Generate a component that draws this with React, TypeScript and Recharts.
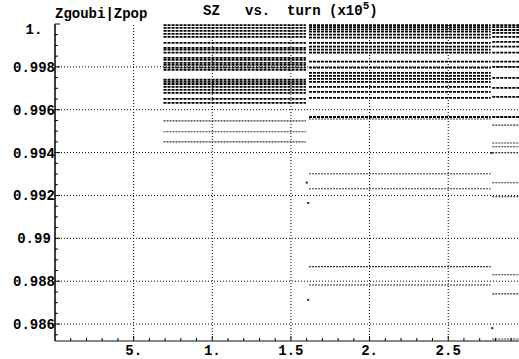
import React from "react";
import { ComposedChart, Line, Scatter, XAxis, YAxis, ReferenceLine } from "recharts";

// x ranges (turn, x10^5) of the three plateaus
const segmentStarts = [0.69, 1.615, 2.78];
const segmentEnds = [1.595, 2.77, 2.95];

// SZ levels read in each plateau
const levelsA = [
  0.99995, 0.99982, 0.99968, 0.99954, 0.9994, 0.99912, 0.99889, 0.9988, 0.99866,
  0.99842, 0.99833, 0.99819, 0.99809, 0.99796, 0.99786, 0.9974, 0.9973, 0.9972,
  0.99707, 0.99693, 0.99679, 0.99651, 0.99632, 0.99548, 0.99497, 0.9945,
];
const levelsB = [
  0.99995, 0.99985, 0.99975, 0.99964, 0.9995, 0.99936, 0.99912, 0.99894, 0.9988, 0.99866,
  0.99824, 0.99796, 0.99772, 0.99758, 0.99744, 0.9973, 0.99707, 0.99683, 0.99655,
  0.99566, 0.99557, 0.99301, 0.99231, 0.98868, 0.98782,
];
const levelsC = [
  0.99995, 0.99985, 0.99972, 0.99959, 0.9994, 0.99917, 0.99894, 0.99866, 0.99824, 0.998,
  0.99749, 0.99702, 0.9966, 0.99566, 0.99528, 0.99445, 0.99427, 0.99399, 0.99259,
  0.99194, 0.9883, 0.98741, 0.9853,
];

// isolated transition points
const strayX = [1.6, 1.61, 1.61, 2.78, 2.775];
const strayY = [0.9926, 0.99165, 0.98713, 0.98581, 0.99398];

const xMajorTicks = [0.5, 1, 1.5, 2, 2.5];
const xMajorLabels = ["5.", "1.", "1.5", "2.", "2.5"];
const xMinorTicks = [
  0.1, 0.2, 0.3, 0.4, 0.5, 0.6, 0.7, 0.8, 0.9, 1.0, 1.1, 1.2, 1.3, 1.4, 1.5, 1.6,
  1.7, 1.8, 1.9, 2.0, 2.1, 2.2, 2.3, 2.4, 2.5, 2.6, 2.7, 2.8, 2.9,
];
const yMajorTicks = [0.986, 0.988, 0.99, 0.992, 0.994, 0.996, 0.998, 1.0];
const yMajorLabels = ["0.986", "0.988", "0.99", "0.992", "0.994", "0.996", "0.998", "1."];
const yMinorTicks = [
  0.9855, 0.986, 0.9865, 0.987, 0.9875, 0.988, 0.9885, 0.989, 0.9895, 0.99, 0.9905,
  0.991, 0.9915, 0.992, 0.9925, 0.993, 0.9935, 0.994, 0.9945, 0.995, 0.9955, 0.996,
  0.9965, 0.997, 0.9975, 0.998, 0.9985, 0.999, 0.9995, 1.0,
];

const FONT = "'Liberation Mono', 'DejaVu Sans Mono', monospace";

const allLevels = [levelsA, levelsB, levelsC];
const traces: { key: string; dense: boolean; data: { x: number; y: number }[] }[] = [];
allLevels.forEach((levels, s) => {
  levels.forEach((v, i) => {
    traces.push({
      key: `s${s}-${i}`,
      dense: v > 0.9956,
      data: [
        { x: segmentStarts[s], y: v },
        { x: segmentEnds[s], y: v },
      ],
    });
  });
});
const strayData = strayX.map((x, i) => ({ x, y: strayY[i] }));

const findIdx = (arr: number[], v: number) => arr.findIndex((a) => Math.abs(a - v) < 1e-9);

const XTick = (props: any) => {
  const { x, y, payload } = props;
  const idx = findIdx(xMajorTicks, payload.value);
  return (
    <g>
      <line x1={x} y1={y} x2={x} y2={y - (idx >= 0 ? 5 : 3)} stroke="#000" strokeWidth={1} />
      {idx >= 0 && (
        <text x={x} y={y + 14} textAnchor="middle" fontFamily={FONT} fontWeight="bold" fontSize={14} fill="#000">
          {xMajorLabels[idx]}
        </text>
      )}
    </g>
  );
};

const YTick = (props: any) => {
  const { x, y, payload } = props;
  const idx = findIdx(yMajorTicks, payload.value);
  const isTop = idx === yMajorTicks.length - 1;
  return (
    <g>
      <line x1={x} y1={y} x2={x + (idx >= 0 ? 5 : 3)} y2={y} stroke="#000" strokeWidth={1} />
      {idx >= 0 && (
        <text x={34} y={y + (isTop ? 10 : 5)} textAnchor="middle" fontFamily={FONT} fontWeight="bold" fontSize={14} fill="#000">
          {yMajorLabels[idx]}
        </text>
      )}
    </g>
  );
};

const Dot = (props: any) => {
  const { cx, cy } = props;
  return <rect x={cx - 1} y={cy - 1} width={2} height={2} fill="#222" />;
};

export default function App() {
  return (
    <div style={{ position: "absolute", left: 0, top: 0, width: 519, height: 359, background: "#fff" }}>
      <div
        style={{
          position: "absolute",
          left: 55,
          top: 6,
          fontFamily: FONT,
          fontWeight: "bold",
          fontSize: 14,
          lineHeight: "16px",
          whiteSpace: "pre",
        }}
      >
        Zgoubi|Zpop
      </div>
      <div
        style={{
          position: "absolute",
          left: 203,
          top: 3,
          fontFamily: FONT,
          fontWeight: "bold",
          fontSize: 14,
          lineHeight: "16px",
          whiteSpace: "pre",
        }}
      >
        SZ   vs.  turn (x10<sup style={{ fontSize: 11, lineHeight: 0 }}>5</sup>)
      </div>
      <ComposedChart
        width={519}
        height={359}
        margin={{ top: 24, right: 0, bottom: 0, left: 0 }}
        style={{ position: "absolute", left: 0, top: 0 }}
      >
        <XAxis
          xAxisId="b"
          type="number"
          dataKey="x"
          domain={[0, 2.95]}
          allowDataOverflow
          ticks={xMinorTicks}
          interval={0}
          tickSize={0}
          tickMargin={0}
          tick={<XTick />}
          height={18}
          axisLine={{ stroke: "#888", strokeWidth: 2 }}
          tickLine={false}
        />
        <XAxis
          xAxisId="t"
          orientation="top"
          type="number"
          domain={[0, 2.95]}
          allowDataOverflow
          tick={false}
          tickLine={false}
          height={0}
          axisLine={{ stroke: "#000", strokeWidth: 1 }}
        />
        <YAxis
          type="number"
          domain={[0.98521, 1.0]}
          allowDataOverflow
          ticks={yMinorTicks}
          interval={0}
          tickSize={0}
          tickMargin={0}
          tick={<YTick />}
          width={55}
          axisLine={{ stroke: "#000", strokeWidth: 1.5 }}
          tickLine={false}
        />
        {yMajorTicks.slice(0, 7).map((v) => (
          <ReferenceLine key={`gy${v}`} xAxisId="b" y={v} stroke="#000" strokeDasharray="1 2" strokeWidth={1} />
        ))}
        {xMajorTicks.map((v) => (
          <ReferenceLine key={`gx${v}`} xAxisId="b" x={v} stroke="#000" strokeDasharray="1 2" strokeWidth={1} />
        ))}
        {traces.map((t) => (
          <Line
            key={t.key}
            xAxisId="b"
            data={t.data}
            dataKey="y"
            type="linear"
            stroke={t.dense ? "#000" : "#333"}
            strokeWidth={t.dense ? 1.8 : 1.1}
            strokeDasharray={t.dense ? "3 1" : "2 1"}
            dot={false}
            activeDot={false}
            isAnimationActive={false}
            legendType="none"
          />
        ))}
        <Scatter xAxisId="b" data={strayData} dataKey="y" shape={<Dot />} isAnimationActive={false} />
      </ComposedChart>
    </div>
  );
}
